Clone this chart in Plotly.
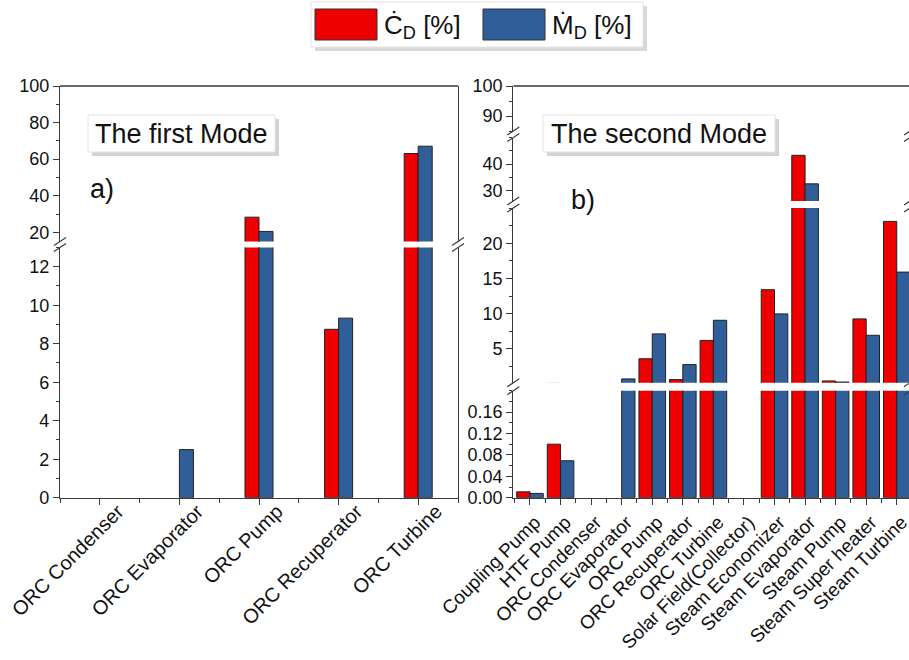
import plotly.graph_objects as go

# ---------------- data ----------------
cats_first = ["ORC Condenser", "ORC Evaporator", "ORC Pump", "ORC Recuperator", "ORC Turbine"]
cd_first = [0, 0, 28.3, 8.75, 63.1]
md_first = [0, 2.5, 20.5, 9.33, 67.1]

cats_second = ["Coupling Pump", "HTF Pump", "ORC Condenser", "ORC Evaporator", "ORC Pump",
               "ORC Recuperator", "ORC Turbine", "Solar Field(Collector)", "Steam Economizer",
               "Steam Evaporator", "Steam Pump", "Steam Super heater", "Steam Turbine"]
cd_second = [0.011, 0.10, 0, 0, 3.6, 0.64, 6.2, 0, 13.4, 43.3, 0.45, 9.26, 23.1]
md_second = [0.008, 0.069, 0, 0.74, 7.13, 2.77, 9.06, 0, 9.97, 32.5, 0.3, 6.93, 15.9]

# ---------------- geometry helpers ----------------
W, H = 909, 660
def px(x):
    return x / W
def py(y):
    return 1 - y / H

RED = "#EE0000"
BLUE = "#2F5E98"
AX = "#3a3a3a"
FONT = "Liberation Sans, Arial, sans-serif"

fig = go.Figure()

# segments: (axis name, y-range, pixel top, pixel bottom, tick values, minor dtick, format)
left_segs = [
    ("y", [0, 13], 247.5, 497.7, [0, 2, 4, 6, 8, 10, 12], 1, None),
    ("y2", [15, 100], 86, 241.5, [20, 40, 60, 80, 100], 10, None),
]
right_segs = [
    ("y3", [0, 0.2], 390.7, 497.7, [0, 0.04, 0.08, 0.12, 0.16], 0.02, ".2f"),
    ("y4", [0.2, 25], 208.0, 382.7, [5, 10, 15, 20], 2.5, None),
    ("y5", [26, 50], 137.6, 201.0, [30, 40], 5, None),
    ("y6", [85, 100], 86, 131.0, [90, 100], 5, None),
]

w1 = 0.176
w2 = 0.435
x1 = list(range(len(cats_first)))
x2 = list(range(len(cats_second)))

def mk(color, vals):
    return dict(color=color, line=dict(color="#222222", width=[1 if v > 0 else 0 for v in vals]))

for name, *_ in left_segs:
    fig.add_trace(go.Bar(x=x1, y=cd_first, xaxis="x", yaxis=name, width=w1, offset=-w1,
                         marker=mk(RED, cd_first), showlegend=False, name="Ċ<sub>D</sub> [%]"))
    fig.add_trace(go.Bar(x=x1, y=md_first, xaxis="x", yaxis=name, width=w1, offset=0,
                         marker=mk(BLUE, md_first), showlegend=False, name="Ṁ<sub>D</sub> [%]"))
for name, *_ in right_segs:
    fig.add_trace(go.Bar(x=x2, y=cd_second, xaxis="x2", yaxis=name, width=w2, offset=-w2,
                         marker=mk(RED, cd_second), showlegend=False, name="Ċ<sub>D</sub> [%]"))
    fig.add_trace(go.Bar(x=x2, y=md_second, xaxis="x2", yaxis=name, width=w2, offset=0,
                         marker=mk(BLUE, md_second), showlegend=False, name="Ṁ<sub>D</sub> [%]"))

layout = dict(
    width=W, height=H, margin=dict(l=0, r=0, t=0, b=0, autoexpand=False),
    paper_bgcolor="white", plot_bgcolor="white",
    barmode="overlay",
    font=dict(family=FONT, size=18, color="#111111"),
)

xcommon = dict(showline=True, linecolor=AX, linewidth=1.3, ticks="outside", ticklen=6,
               tickwidth=1.2, tickcolor=AX, tickangle=-45, showgrid=False, zeroline=False,
               automargin=False, ticklabeloverflow="allow",
               minor=dict(ticks="outside", ticklen=4, tickcolor=AX, tick0=0.5, dtick=1))
layout["xaxis"] = dict(xcommon, domain=[px(60), px(458)], range=[-0.5, 4.5], anchor="y",
                       tickmode="array", tickvals=x1, ticktext=cats_first,
                       ticklabelstandoff=-13, ticklabelshift=18,
                       tickfont=dict(size=20, family=FONT, color="#111111"))
layout["xaxis2"] = dict(xcommon, domain=[px(513.3), 1], range=[-0.546, 12.40], anchor="y3",
                        tickmode="array", tickvals=x2, ticktext=cats_second,
                        ticklabelstandoff=-1, ticklabelshift=5,
                        tickfont=dict(size=19, family=FONT, color="#111111"))

def yax(seg, xname, mirror):
    name, rng, top, bot, tv, mdt, fmt = seg
    d = dict(domain=[py(bot), py(top)], range=rng, anchor=xname, showline=True,
             linecolor=AX, linewidth=1.3, mirror=mirror, ticks="outside", ticklen=6,
             tickwidth=1.2, tickcolor=AX, showgrid=False, zeroline=False, automargin=False,
             ticklabeloverflow="allow",
             tickmode="array", tickvals=tv,
             tickfont=dict(size=18, family=FONT, color="#111111"),
             minor=dict(ticks="outside", ticklen=3, tickcolor=AX, tickmode="linear",
                        tick0=0, dtick=mdt))
    if fmt:
        d["tickformat"] = fmt
    return d

for seg in left_segs:
    key = "yaxis" if seg[0] == "y" else "yaxis" + seg[0][1:]
    layout[key] = yax(seg, "x", True)
for seg in right_segs:
    key = "yaxis" + seg[0][1:]
    layout[key] = yax(seg, "x2", False)

shapes = []
def line(x0, y0, x1_, y1, color=AX, width=1.3):
    shapes.append(dict(type="line", xref="paper", yref="paper", x0=px(x0), y0=py(y0),
                       x1=px(x1_), y1=py(y1), line=dict(color=color, width=width), layer="above"))
def rect(x0, y0, x1_, y1, fill, lc=None, lw=0):
    shapes.append(dict(type="rect", xref="paper", yref="paper", x0=px(x0), y0=py(y0),
                       x1=px(x1_), y1=py(y1), fillcolor=fill,
                       line=dict(color=lc or fill, width=lw), layer="above"))

# frame top lines
line(60, 86, 458, 86)
line(513.3, 86, 909, 86)

# break marks
def brk(x, ya, yb):
    line(x - 6, ya + 4, x + 6, ya - 4, width=1.2)
    line(x - 6, yb + 4, x + 6, yb - 4, width=1.2)
brk(60, 241.5, 247.5)
brk(458, 241.5, 247.5)
for (a, b) in [(382.7, 390.7), (201.0, 208.0), (131.0, 137.6)]:
    brk(513.3, a, b)
    brk(910, a, b)

# text boxes with shadows
rect(92, 119, 279, 156, "#d3d3d3")
rect(88, 115, 275, 152, "white", "#e4e4e4", 1)
rect(547, 119, 779, 156, "#d3d3d3")
rect(543, 115, 775, 152, "white", "#e4e4e4", 1)

# legend box
rect(315, 6, 647, 51, "#d8d8d8")
rect(311, 2, 643, 47, "white", "#e4e4e4", 1)
rect(315, 9, 377, 40, RED, "#333333", 1)
rect(483, 9, 545, 40, BLUE, "#333333", 1)

layout["shapes"] = shapes

def ann(text, x, y, size, xanchor="center"):
    return dict(text=text, x=px(x), y=py(y), xref="paper", yref="paper", showarrow=False,
                xanchor=xanchor, yanchor="middle", font=dict(size=size, family=FONT, color="#111111"))

layout["annotations"] = [
    ann("The first Mode", 181.5, 134, 27),
    ann("a)", 88, 189, 27, "left"),
    ann("The second Mode", 659, 134, 27),
    ann("b)", 569, 200, 27, "left"),
    ann("Ċ<sub>D</sub> [%]", 382, 26, 26, "left"),
    ann("Ṁ<sub>D</sub> [%]", 550, 26, 26, "left"),
]

fig.update_layout(**layout)
fig.write_html("out.html", config={"displayModeBar": False},
               post_script="document.body.style.margin='0';document.body.style.overflow='hidden';")
